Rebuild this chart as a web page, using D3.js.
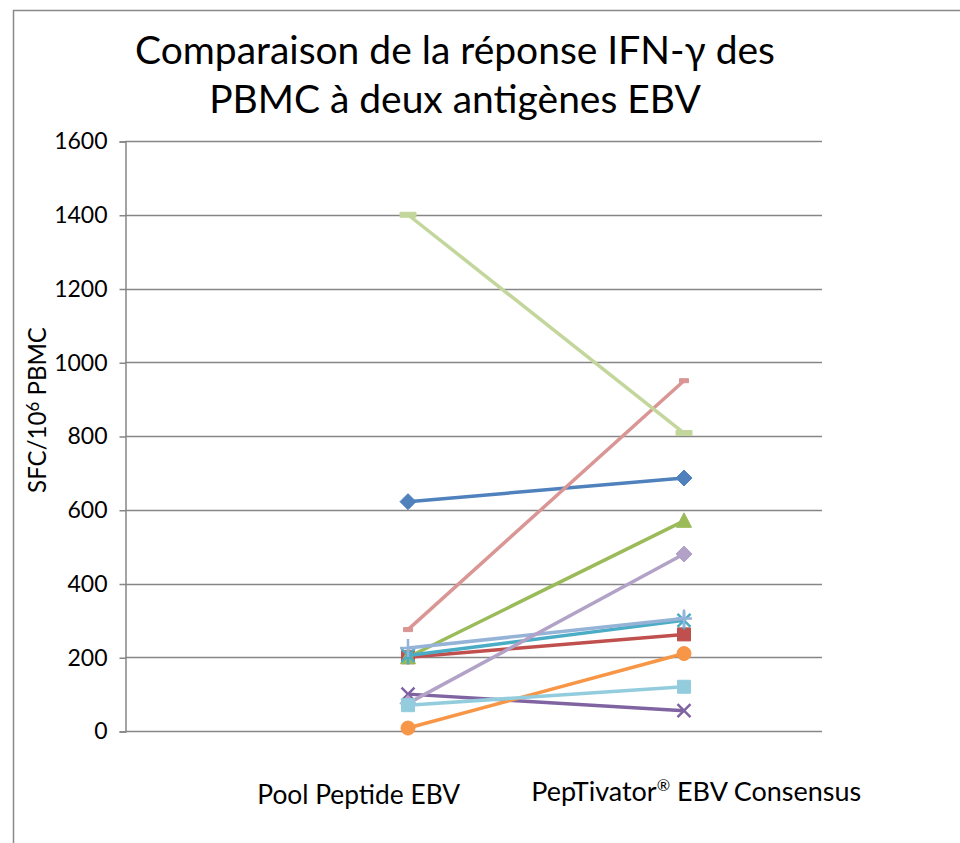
<!DOCTYPE html>
<html>
<head>
<meta charset="utf-8">
<script src="https://cdn.jsdelivr.net/npm/d3@7"></script>
<style>
  html, body { margin: 0; padding: 0; background: #fff; }
  svg { display: block; }
  text { font-family: Lato, "Open Sans", sans-serif; fill: #000; }
</style>
</head>
<body>
<svg id="chart" width="960" height="843"></svg>
<script>
// Stimulation conditions (x categories)
const categories = ["Pool Peptide EBV", "PepTivator® EBV Consensus"];

// IFN-γ spots per 10^6 PBMC, one array per donor: [Pool Peptide, PepTivator]
const donor1  = [622, 686];
const donor2  = [200, 262];
const donor3  = [200, 570];
const donor4  = [100, 55];
const donor5  = [205, 300];
const donor6  = [8, 210];
const donor7  = [225, 305];
const donor8  = [275, 950];
const donor9  = [1400, 808];
const donor10 = [75, 480];
const donor11 = [70, 120];

const yTicks = [0, 200, 400, 600, 800, 1000, 1200, 1400, 1600];

const seriesValues = [donor1, donor2, donor3, donor4, donor5, donor6,
                      donor7, donor8, donor9, donor10, donor11];
const seriesColors = ["#4F81BD", "#C0504D", "#9BBB59", "#8064A2", "#4BACC6", "#F79646",
                      "#95B3D7", "#D99694", "#C3D69B", "#B3A2C7", "#93CDDD"];
const seriesMarkers = ["diamond", "square", "triangle", "x", "star", "circle",
                       "plus", "dash", "longdash", "diamond", "square"];

const svg = d3.select("#chart");

// chart area border
svg.append("rect")
  .attr("x", 13.5).attr("y", 10.5)
  .attr("width", 1000).attr("height", 900)
  .attr("fill", "none").attr("stroke", "#898989").attr("stroke-width", 1.5);

const plot = { left: 125, right: 822, top: 141, bottom: 731 };

const y = d3.scaleLinear().domain([0, 1600]).range([plot.bottom, plot.top]);
const x = d3.scalePoint().domain(categories).range([408, 684]);
// category labels sit in their own bands below the plot
const xLabel = d3.scaleBand().domain(categories).range([190, 865]);

// gridlines
svg.append("g")
  .selectAll("line")
  .data(yTicks)
  .join("line")
  .attr("x1", plot.left).attr("x2", plot.right)
  .attr("y1", d => Math.round(y(d)) + 0.5).attr("y2", d => Math.round(y(d)) + 0.5)
  .attr("stroke", "#868686").attr("stroke-width", 1.5);

// y axis
const yAxis = d3.axisLeft(y).tickValues(yTicks).tickSize(6).tickPadding(12)
  .tickFormat(d3.format("d"));
const gy = svg.append("g")
  .attr("transform", `translate(${plot.left + 0.5},0.5)`)
  .call(yAxis);
gy.select(".domain").attr("stroke", "#868686").attr("stroke-width", 1.5);
gy.selectAll(".tick line").attr("stroke", "#868686").attr("stroke-width", 1.5);
gy.selectAll(".tick text")
  .attr("font-family", "Lato, 'Open Sans', sans-serif")
  .attr("font-size", 23).attr("fill", "#000");

// fits a text element to a target width by adjusting its font size
function fitWidth(sel, width) {
  const base = 20;
  sel.attr("font-size", base);
  const w = sel.node().getComputedTextLength();
  sel.attr("font-size", base * width / w);
  return sel;
}

// category labels, with the ® sign raised as a superscript
const catLabels = svg.append("g").selectAll("text")
  .data(categories)
  .join("text")
  .attr("x", d => xLabel(d) + xLabel.bandwidth() / 2)
  .attr("y", (d, i) => i === 0 ? 804 : 801)
  .attr("text-anchor", "middle");
catLabels.each(function (d) {
  const t = d3.select(this);
  const parts = d.split("®");
  parts.forEach((p, i) => {
    if (i > 0) {
      t.append("tspan").attr("font-size", "0.6em").attr("dy", "-0.6em").text("®");
      t.append("tspan").attr("dy", "0.36em").text(p);
    } else {
      t.append("tspan").text(p);
    }
  });
});
fitWidth(d3.select(catLabels.nodes()[0]), 203);
fitWidth(d3.select(catLabels.nodes()[1]), 330);

// y axis title
const yTitle = svg.append("text")
  .attr("transform", "translate(46,410) rotate(-90)")
  .attr("text-anchor", "middle");
yTitle.append("tspan").text("SFC/10");
yTitle.append("tspan").attr("dy", "-0.4em").attr("font-size", "0.7em").text("6");
yTitle.append("tspan").attr("dy", "0.28em").text(" PBMC");
fitWidth(yTitle, 166);

// chart title
const titleLines = ["Comparaison de la réponse IFN-γ des", "PBMC à deux antigènes EBV"];
const t1 = svg.append("text").attr("x", 455).attr("y", 64).attr("text-anchor", "middle").text(titleLines[0]);
fitWidth(t1, 640);
const t2 = svg.append("text").attr("x", 455).attr("y", 113).attr("text-anchor", "middle")
  .attr("font-size", t1.attr("font-size")).text(titleLines[1]);

// marker shapes
function markerPath(type) {
  switch (type) {
    case "diamond": return "M0,-8L8,0L0,8L-8,0Z";
    case "square": return "M-6.5,-6.5H6.5V6.5H-6.5Z";
    case "triangle": return "M0,-8L7.5,6.5H-7.5Z";
    case "circle": return "M7,0A7,7 0 1,1 -7,0A7,7 0 1,1 7,0Z";
    case "x": return "M-6.5,-6.5L6.5,6.5M6.5,-6.5L-6.5,6.5";
    case "star": return "M-6.5,-6.5L6.5,6.5M6.5,-6.5L-6.5,6.5M0,-9V9";
    case "plus": return "M-8,0H8M0,-9V9";
    case "dash": return "M-4.5,-2H4.5V2H-4.5Z";
    case "longdash": return "M-8,-2.5H8V2.5H-8Z";
  }
}
const strokeOnly = new Set(["x", "star", "plus"]);

const line = d3.line()
  .x((d, i) => x(categories[i]))
  .y(d => y(d));

const series = svg.append("g").selectAll("g")
  .data(seriesValues)
  .join("g");

series.append("path")
  .attr("d", d => line(d))
  .attr("fill", "none")
  .attr("stroke", (d, i) => seriesColors[i])
  .attr("stroke-width", 3.5)
  .attr("stroke-linejoin", "round");

series.each(function (vals, si) {
  d3.select(this).selectAll("path.marker")
    .data(vals)
    .join("path")
    .attr("class", "marker")
    .attr("transform", (v, i) => `translate(${x(categories[i])},${y(v)})`)
    .attr("d", markerPath(seriesMarkers[si]))
    .attr("fill", strokeOnly.has(seriesMarkers[si]) ? "none" : seriesColors[si])
    .attr("stroke", seriesColors[si])
    .attr("stroke-width", strokeOnly.has(seriesMarkers[si]) ? 2.5 : 1);
});
</script>
</body>
</html>
